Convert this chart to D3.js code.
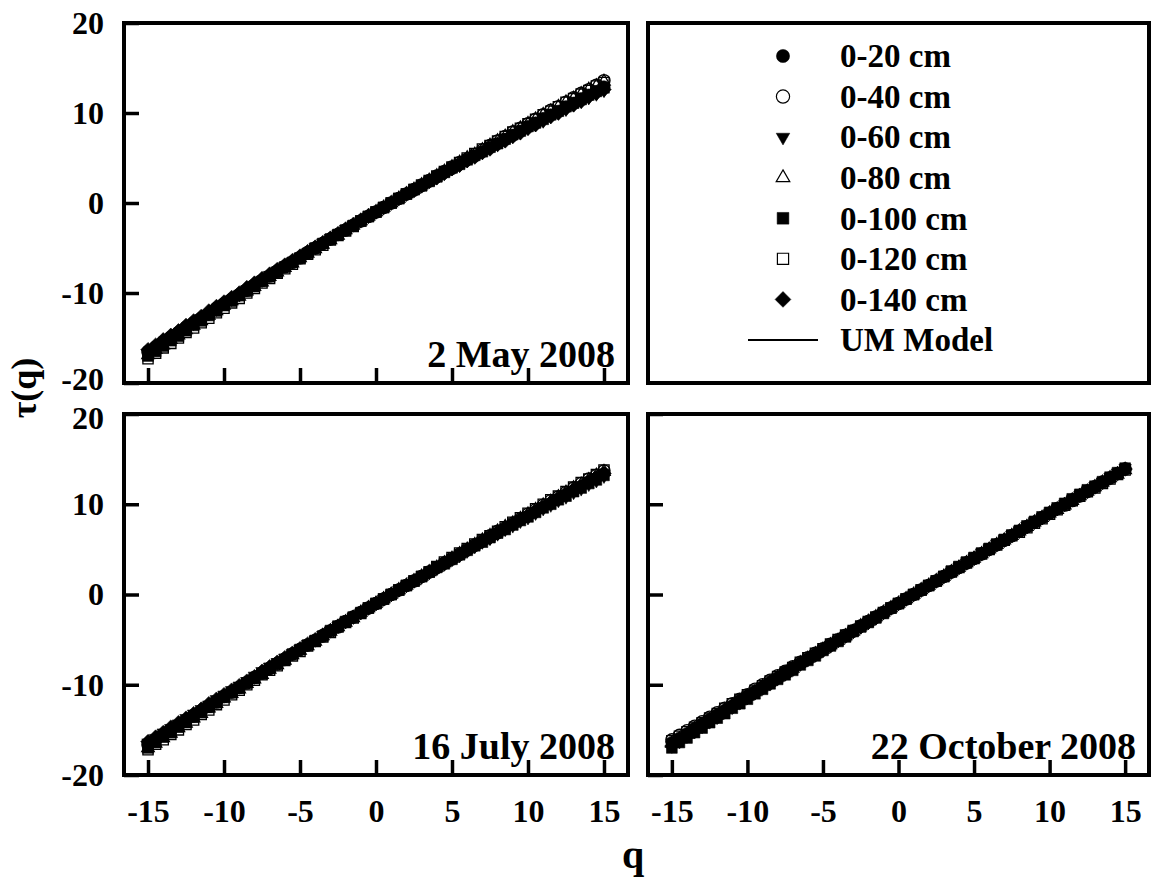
<!DOCTYPE html>
<html>
<head>
<meta charset="utf-8">
<script src="https://cdn.jsdelivr.net/npm/d3@7"></script>
<style>
  body { margin: 0; background: #fff; }
  svg { display: block; }
  text { font-family: "Liberation Serif", "Times New Roman", serif; font-weight: bold; fill: #000; }
</style>
</head>
<body>
<svg id="chart" width="1157" height="884"></svg>
<script>
// ---------------- DATA ----------------
const qValues = [-15,-14.5,-14,-13.5,-13,-12.5,-12,-11.5,-11,-10.5,-10,-9.5,-9,-8.5,-8,-7.5,-7,-6.5,-6,-5.5,-5,-4.5,-4,-3.5,-3,-2.5,-2,-1.5,-1,-0.5,0,0.5,1,1.5,2,2.5,3,3.5,4,4.5,5,5.5,6,6.5,7,7.5,8,8.5,9,9.5,10,10.5,11,11.5,12,12.5,13,13.5,14,14.5,15];
const modelQ = [-15,-14,-13,-12,-11,-10,-9,-8,-7,-6,-5,-4,-3,-2,-1,0,1,2,3,4,5,6,7,8,9,10,11,12,13,14,15];
const depthLabels = ["0-20 cm","0-40 cm","0-60 cm","0-80 cm","0-100 cm","0-120 cm","0-140 cm"];
const modelLabel = "UM Model";
const panelTitles = ["2 May 2008","16 July 2008","22 October 2008"];
const xTicks = [-15,-10,-5,0,5,10,15];
const yTicks = [-20,-10,0,10,20];
const xTitle = "q";
const yTitle = "τ(q)";

// 2 May 2008
const may_0_20 = [-16.6,-16.1,-15.5,-15.0,-14.4,-13.9,-13.4,-12.8,-12.3,-11.8,-11.2,-10.7,-10.2,-9.6,-9.1,-8.6,-8.1,-7.5,-7.0,-6.5,-6.0,-5.5,-5.0,-4.5,-4.0,-3.5,-3.0,-2.5,-2.0,-1.5,-1.0,-0.5,0,0.5,1.0,1.4,1.9,2.4,2.9,3.4,3.8,4.3,4.8,5.2,5.7,6.2,6.6,7.1,7.5,8.0,8.5,8.9,9.4,9.8,10.2,10.7,11.1,11.6,12.0,12.4,12.9];
const may_0_40 = [-16.5,-16.0,-15.4,-14.9,-14.4,-13.8,-13.3,-12.8,-12.3,-11.7,-11.2,-10.7,-10.2,-9.7,-9.1,-8.6,-8.1,-7.6,-7.1,-6.6,-6.1,-5.5,-5.0,-4.5,-4.0,-3.5,-3.0,-2.5,-2.0,-1.5,-1.0,-0.5,0,0.5,1.0,1.5,2.0,2.5,3.0,3.5,4.0,4.5,4.9,5.4,5.9,6.4,6.9,7.4,7.9,8.3,8.8,9.3,9.8,10.3,10.7,11.2,11.7,12.2,12.6,13.1,13.6];
const may_0_60 = [-16.7,-16.2,-15.6,-15.0,-14.5,-13.9,-13.4,-12.8,-12.3,-11.8,-11.2,-10.7,-10.2,-9.6,-9.1,-8.6,-8.0,-7.5,-7.0,-6.5,-6.0,-5.5,-4.9,-4.4,-3.9,-3.4,-2.9,-2.4,-2.0,-1.5,-1.0,-0.5,0,0.5,1.0,1.4,1.9,2.4,2.8,3.3,3.8,4.2,4.7,5.2,5.6,6.1,6.5,7.0,7.4,7.8,8.3,8.7,9.1,9.6,10.0,10.4,10.9,11.3,11.7,12.1,12.5];
const may_0_80 = [-16.9,-16.3,-15.8,-15.2,-14.7,-14.1,-13.6,-13.1,-12.5,-12.0,-11.4,-10.9,-10.4,-9.8,-9.3,-8.8,-8.2,-7.7,-7.2,-6.7,-6.1,-5.6,-5.1,-4.6,-4.1,-3.6,-3.0,-2.5,-2.0,-1.5,-1.0,-0.5,0,0.5,1.0,1.5,2.0,2.5,3.0,3.5,4.0,4.5,5.0,5.4,5.9,6.4,6.9,7.4,7.9,8.3,8.8,9.3,9.8,10.2,10.7,11.2,11.6,12.1,12.6,13.0,13.5];
const may_0_100 = [-17.0,-16.5,-15.9,-15.3,-14.8,-14.2,-13.6,-13.1,-12.5,-12.0,-11.4,-10.9,-10.3,-9.8,-9.3,-8.7,-8.2,-7.7,-7.1,-6.6,-6.1,-5.6,-5.0,-4.5,-4.0,-3.5,-3.0,-2.5,-2.0,-1.5,-1.0,-0.5,0,0.5,1.0,1.5,1.9,2.4,2.9,3.4,3.9,4.3,4.8,5.3,5.7,6.2,6.6,7.1,7.6,8.0,8.5,8.9,9.3,9.8,10.2,10.7,11.1,11.5,12.0,12.4,12.8];
const may_0_120 = [-17.3,-16.7,-16.1,-15.6,-15.0,-14.4,-13.9,-13.3,-12.8,-12.2,-11.7,-11.1,-10.6,-10.0,-9.5,-8.9,-8.4,-7.8,-7.3,-6.8,-6.2,-5.7,-5.2,-4.7,-4.1,-3.6,-3.1,-2.6,-2.0,-1.5,-1.0,-0.5,0,0.5,1.0,1.5,2.0,2.5,3.0,3.5,4.0,4.5,5.0,5.5,6.0,6.4,6.9,7.4,7.9,8.3,8.8,9.3,9.8,10.2,10.7,11.2,11.6,12.1,12.5,13.0,13.4];
const may_0_140 = [-16.3,-15.8,-15.2,-14.7,-14.2,-13.6,-13.1,-12.6,-12.0,-11.5,-11.0,-10.5,-10.0,-9.4,-8.9,-8.4,-7.9,-7.4,-6.9,-6.4,-5.9,-5.4,-4.9,-4.4,-3.9,-3.4,-2.9,-2.4,-1.9,-1.4,-1.0,-0.5,0,0.5,1.0,1.4,1.9,2.4,2.8,3.3,3.8,4.2,4.7,5.1,5.6,6.0,6.5,6.9,7.4,7.8,8.3,8.7,9.2,9.6,10.0,10.5,10.9,11.3,11.8,12.2,12.6];
const may_model = [-16.6,-15.5,-14.4,-13.4,-12.3,-11.2,-10.2,-9.1,-8.1,-7.0,-6.0,-5.0,-4.0,-3.0,-2.0,-1.0,0,1.0,1.9,2.9,3.8,4.8,5.7,6.6,7.5,8.5,9.4,10.2,11.1,12.0,12.9];

// 16 July 2008
const jul_0_20 = [-16.7,-16.2,-15.6,-15.1,-14.5,-14.0,-13.5,-12.9,-12.4,-11.9,-11.3,-10.8,-10.3,-9.7,-9.2,-8.7,-8.2,-7.6,-7.1,-6.6,-6.1,-5.6,-5.1,-4.5,-4.0,-3.5,-3.0,-2.5,-2.0,-1.5,-1.0,-0.5,0,0.5,1.0,1.5,2.0,2.5,3.0,3.5,3.9,4.4,4.9,5.4,5.9,6.4,6.8,7.3,7.8,8.3,8.7,9.2,9.7,10.1,10.6,11.1,11.5,12.0,12.5,12.9,13.4];
const jul_0_40 = [-16.6,-16.1,-15.6,-15.0,-14.5,-14.0,-13.4,-12.9,-12.4,-11.9,-11.3,-10.8,-10.3,-9.8,-9.2,-8.7,-8.2,-7.7,-7.2,-6.6,-6.1,-5.6,-5.1,-4.6,-4.1,-3.6,-3.0,-2.5,-2.0,-1.5,-1.0,-0.5,0,0.5,1.0,1.5,2.0,2.5,3.0,3.5,4.0,4.5,5.0,5.5,6.0,6.5,7.0,7.4,7.9,8.4,8.9,9.4,9.9,10.4,10.8,11.3,11.8,12.3,12.8,13.2,13.7];
const jul_0_60 = [-16.4,-15.9,-15.3,-14.8,-14.3,-13.7,-13.2,-12.7,-12.2,-11.6,-11.1,-10.6,-10.1,-9.6,-9.0,-8.5,-8.0,-7.5,-7.0,-6.5,-6.0,-5.5,-5.0,-4.5,-4.0,-3.5,-3.0,-2.5,-2.0,-1.5,-1.0,-0.5,0,0.5,1.0,1.5,1.9,2.4,2.9,3.4,3.9,4.3,4.8,5.3,5.8,6.2,6.7,7.2,7.6,8.1,8.5,9.0,9.5,9.9,10.4,10.8,11.3,11.7,12.2,12.6,13.1];
const jul_0_80 = [-17.0,-16.5,-15.9,-15.4,-14.8,-14.3,-13.7,-13.2,-12.6,-12.1,-11.5,-11.0,-10.5,-9.9,-9.4,-8.9,-8.3,-7.8,-7.3,-6.7,-6.2,-5.7,-5.2,-4.6,-4.1,-3.6,-3.1,-2.6,-2.0,-1.5,-1.0,-0.5,0,0.5,1.0,1.5,2.0,2.5,3.0,3.5,4.0,4.5,5.0,5.5,6.0,6.5,7.0,7.5,7.9,8.4,8.9,9.4,9.9,10.3,10.8,11.3,11.8,12.2,12.7,13.2,13.6];
const jul_0_100 = [-17.0,-16.4,-15.8,-15.3,-14.7,-14.2,-13.6,-13.1,-12.5,-12.0,-11.4,-10.9,-10.4,-9.8,-9.3,-8.8,-8.2,-7.7,-7.2,-6.6,-6.1,-5.6,-5.1,-4.6,-4.0,-3.5,-3.0,-2.5,-2.0,-1.5,-1.0,-0.5,0,0.5,1.0,1.5,2.0,2.5,3.0,3.4,3.9,4.4,4.9,5.4,5.8,6.3,6.8,7.2,7.7,8.2,8.6,9.1,9.6,10.0,10.5,10.9,11.4,11.8,12.3,12.7,13.2];
const jul_0_120 = [-17.2,-16.6,-16.1,-15.5,-15.0,-14.4,-13.9,-13.3,-12.8,-12.2,-11.7,-11.1,-10.6,-10.0,-9.5,-8.9,-8.4,-7.9,-7.3,-6.8,-6.3,-5.7,-5.2,-4.7,-4.2,-3.6,-3.1,-2.6,-2.1,-1.5,-1.0,-0.5,0,0.5,1.0,1.5,2.0,2.5,3.1,3.6,4.1,4.6,5.1,5.6,6.1,6.5,7.0,7.5,8.0,8.5,9.0,9.5,10.0,10.5,10.9,11.4,11.9,12.4,12.8,13.3,13.8];
const jul_0_140 = [-16.3,-15.8,-15.3,-14.7,-14.2,-13.7,-13.2,-12.7,-12.1,-11.6,-11.1,-10.6,-10.1,-9.6,-9.1,-8.5,-8.0,-7.5,-7.0,-6.5,-6.0,-5.5,-5.0,-4.5,-4.0,-3.5,-3.0,-2.5,-2.0,-1.5,-1.0,-0.5,0,0.5,1.0,1.5,2.0,2.5,2.9,3.4,3.9,4.4,4.9,5.4,5.9,6.3,6.8,7.3,7.8,8.3,8.7,9.2,9.7,10.2,10.6,11.1,11.6,12.0,12.5,13.0,13.4];
const jul_model = [-16.7,-15.6,-14.5,-13.5,-12.4,-11.3,-10.3,-9.2,-8.2,-7.1,-6.1,-5.1,-4.0,-3.0,-2.0,-1.0,0,1.0,2.0,3.0,3.9,4.9,5.9,6.8,7.8,8.7,9.7,10.6,11.5,12.5,13.4];

// 22 October 2008
const oct_0_20 = [-16.4,-15.9,-15.4,-14.8,-14.3,-13.8,-13.3,-12.8,-12.3,-11.7,-11.2,-10.7,-10.2,-9.7,-9.2,-8.6,-8.1,-7.6,-7.1,-6.6,-6.1,-5.6,-5.1,-4.6,-4.1,-3.5,-3.0,-2.5,-2.0,-1.5,-1.0,-0.5,0,0.5,1.0,1.5,2.0,2.5,3.0,3.5,4.0,4.5,5.0,5.5,6.0,6.5,7.0,7.5,8.0,8.5,9.0,9.5,10.0,10.5,11.0,11.5,12.0,12.5,12.9,13.4,13.9];
const oct_0_40 = [-16.1,-15.6,-15.1,-14.6,-14.1,-13.6,-13.1,-12.6,-12.1,-11.6,-11.1,-10.5,-10.0,-9.5,-9.0,-8.5,-8.0,-7.5,-7.0,-6.5,-6.0,-5.5,-5.0,-4.5,-4.0,-3.5,-3.0,-2.5,-2.0,-1.5,-1.0,-0.5,0,0.5,1.0,1.5,2.0,2.5,3.0,3.5,4.0,4.5,5.0,5.5,6.0,6.5,7.0,7.5,8.0,8.5,9.0,9.5,9.9,10.4,10.9,11.4,11.9,12.4,12.9,13.4,13.9];
const oct_0_60 = [-16.7,-16.1,-15.6,-15.1,-14.6,-14.0,-13.5,-13.0,-12.4,-11.9,-11.4,-10.9,-10.3,-9.8,-9.3,-8.8,-8.2,-7.7,-7.2,-6.7,-6.2,-5.6,-5.1,-4.6,-4.1,-3.6,-3.1,-2.6,-2.0,-1.5,-1.0,-0.5,0,0.5,1.0,1.5,2.0,2.5,3.0,3.5,4.0,4.6,5.1,5.6,6.1,6.6,7.1,7.6,8.1,8.5,9.0,9.5,10.0,10.5,11.0,11.5,12.0,12.5,13.0,13.5,14.0];
const oct_0_80 = [-16.5,-16.0,-15.5,-14.9,-14.4,-13.9,-13.4,-12.8,-12.3,-11.8,-11.3,-10.8,-10.2,-9.7,-9.2,-8.7,-8.2,-7.6,-7.1,-6.6,-6.1,-5.6,-5.1,-4.6,-4.1,-3.5,-3.0,-2.5,-2.0,-1.5,-1.0,-0.5,0,0.5,1.0,1.5,2.0,2.5,3.0,3.5,4.0,4.5,5.0,5.5,6.0,6.5,7.0,7.5,8.0,8.5,9.0,9.4,9.9,10.4,10.9,11.4,11.9,12.4,12.9,13.3,13.8];
const oct_0_100 = [-17.0,-16.4,-15.9,-15.3,-14.8,-14.2,-13.7,-13.2,-12.6,-12.1,-11.6,-11.0,-10.5,-9.9,-9.4,-8.9,-8.4,-7.8,-7.3,-6.8,-6.2,-5.7,-5.2,-4.7,-4.1,-3.6,-3.1,-2.6,-2.1,-1.5,-1.0,-0.5,0,0.5,1.0,1.5,2.0,2.6,3.1,3.6,4.1,4.6,5.1,5.6,6.1,6.6,7.1,7.6,8.1,8.6,9.1,9.6,10.1,10.6,11.1,11.6,12.0,12.5,13.0,13.5,14.0];
const oct_0_120 = [-16.2,-15.7,-15.2,-14.7,-14.2,-13.7,-13.2,-12.6,-12.1,-11.6,-11.1,-10.6,-10.1,-9.6,-9.1,-8.6,-8.1,-7.5,-7.0,-6.5,-6.0,-5.5,-5.0,-4.5,-4.0,-3.5,-3.0,-2.5,-2.0,-1.5,-1.0,-0.5,0,0.5,1.0,1.5,2.0,2.5,3.0,3.5,4.0,4.5,5.0,5.5,6.0,6.5,6.9,7.4,7.9,8.4,8.9,9.4,9.9,10.4,10.9,11.4,11.8,12.3,12.8,13.3,13.8];
const oct_0_140 = [-16.8,-16.3,-15.7,-15.2,-14.6,-14.1,-13.6,-13.0,-12.5,-12.0,-11.4,-10.9,-10.4,-9.9,-9.3,-8.8,-8.3,-7.7,-7.2,-6.7,-6.2,-5.7,-5.1,-4.6,-4.1,-3.6,-3.1,-2.6,-2.0,-1.5,-1.0,-0.5,0,0.5,1.0,1.5,2.0,2.5,3.0,3.5,4.0,4.5,5.0,5.5,6.0,6.5,7.0,7.5,8.0,8.5,9.0,9.5,10.0,10.5,11.0,11.4,11.9,12.4,12.9,13.4,13.9];
const oct_model = [-16.4,-15.4,-14.3,-13.3,-12.3,-11.2,-10.2,-9.2,-8.1,-7.1,-6.1,-5.1,-4.1,-3.0,-2.0,-1.0,0,1.0,2.0,3.0,4.0,5.0,6.0,7.0,8.0,9.0,10.0,11.0,12.0,12.9,13.9];

// ---------------- DRAWING ----------------
const svg = d3.select("#chart");
const fmt = d => (d < 0 ? "-" + Math.abs(d) : String(d));
const FONT = '"Liberation Serif","Times New Roman",serif';

const xDomain = [-16.58, 16.58];
const yDomain = [-20, 20];
const xLeft = d3.scaleLinear().domain(xDomain).range([124, 628]);
const xRight = d3.scaleLinear().domain(xDomain).range([648, 1149]);
const yTop = d3.scaleLinear().domain(yDomain).range([383, 23]);
const yBottom = d3.scaleLinear().domain(yDomain).range([775, 414]);

const markerStyles = [
  { type: d3.symbolCircle,   size: 110, rot: 0,   filled: true  },
  { type: d3.symbolCircle,   size: 110, rot: 0,   filled: false },
  { type: d3.symbolTriangle, size: 64,  rot: 180, filled: true  },
  { type: d3.symbolTriangle, size: 64,  rot: 0,   filled: false },
  { type: d3.symbolSquare,   size: 110, rot: 0,   filled: true  },
  { type: d3.symbolSquare,   size: 100, rot: 0,   filled: false },
  { type: d3.symbolSquare,   size: 100, rot: 45,  filled: true  }
];

const panels = [
  { title: panelTitles[0], series: [may_0_20, may_0_40, may_0_60, may_0_80, may_0_100, may_0_120, may_0_140], model: may_model, x: xLeft,  y: yTop,    xLabels: false, yLabels: true },
  { title: panelTitles[1], series: [jul_0_20, jul_0_40, jul_0_60, jul_0_80, jul_0_100, jul_0_120, jul_0_140], model: jul_model, x: xLeft,  y: yBottom, xLabels: true,  yLabels: true },
  { title: panelTitles[2], series: [oct_0_20, oct_0_40, oct_0_60, oct_0_80, oct_0_100, oct_0_120, oct_0_140], model: oct_model, x: xRight, y: yBottom, xLabels: true,  yLabels: false }
];

panels.forEach((p, pi) => {
  const g = svg.append("g");
  const [x0, x1] = p.x.range();
  const [yb, yt] = p.y.range();

  p.series.forEach((vals, si) => {
    const st = markerStyles[si];
    const sym = d3.symbol().type(st.type).size(st.size * 1.05);
    const n = Math.min(vals.length, qValues.length);
    const pts = d3.range(n).map(i => [qValues[i], vals[i]]);
    g.append("g").selectAll("path").data(pts).join("path")
      .attr("d", sym)
      .attr("transform", d => `translate(${p.x(d[0])},${p.y(d[1])}) rotate(${st.rot})`)
      .attr("fill", st.filled ? "#000" : "none")
      .attr("stroke", "#000")
      .attr("stroke-width", st.filled ? 0.6 : 1.3);
  });

  const line = d3.line().x((d, i) => p.x(modelQ[i])).y(d => p.y(d));
  g.append("path").datum(p.model.slice(0, modelQ.length))
    .attr("d", line).attr("fill", "none").attr("stroke", "#000").attr("stroke-width", 2);

  const xa = d3.axisBottom(p.x).tickValues(xTicks).tickSizeInner(-15).tickSizeOuter(0).tickPadding(24)
    .tickFormat(p.xLabels ? fmt : () => "");
  const gx = g.append("g").attr("transform", `translate(0,${yb})`).call(xa);
  gx.select(".domain").remove();
  gx.selectAll(".tick line").attr("stroke", "#000").attr("stroke-width", 3.5);
  gx.selectAll(".tick text").attr("font-size", 32).attr("fill", "#000")
    .style("font-family", FONT).style("font-weight", "bold");

  const ya = d3.axisLeft(p.y).tickValues(yTicks).tickSizeInner(-15).tickSizeOuter(0).tickPadding(20)
    .tickFormat(p.yLabels ? fmt : () => "");
  const gy = g.append("g").attr("transform", `translate(${x0},0)`).call(ya);
  gy.select(".domain").remove();
  gy.selectAll(".tick line").attr("stroke", "#000").attr("stroke-width", 3.5);
  gy.selectAll(".tick text").attr("font-size", 32).attr("fill", "#000")
    .style("font-family", FONT).style("font-weight", "bold");
  // keep the stacked "-20" / "20" labels of the two left panels from colliding
  if (pi === 0) gy.selectAll(".tick").filter(d => d === -20).select("text").attr("dy", "0.2em");
  if (pi === 1) gy.selectAll(".tick").filter(d => d === 20).select("text").attr("dy", "0.44em");

  g.append("rect").attr("x", x0).attr("y", yt).attr("width", x1 - x0).attr("height", yb - yt)
    .attr("fill", "none").attr("stroke", "#000").attr("stroke-width", 4);

  g.append("text").attr("x", x1 - 13).attr("y", yb - 16).attr("text-anchor", "end")
    .attr("font-size", 38).text(p.title);
});

// legend panel
const lg = svg.append("g");
const lx0 = xRight.range()[0], lx1 = xRight.range()[1];
const ly1 = yTop.range()[0], ly0 = yTop.range()[1];
lg.append("rect").attr("x", lx0).attr("y", ly0).attr("width", lx1 - lx0).attr("height", ly1 - ly0)
  .attr("fill", "none").attr("stroke", "#000").attr("stroke-width", 4);
const rowY = d3.scalePoint().domain(d3.range(depthLabels.length + 1)).range([56, 340]);
depthLabels.forEach((lab, i) => {
  const st = markerStyles[i];
  const sym = d3.symbol().type(st.type).size(st.size * 1.25);
  lg.append("path").attr("d", sym)
    .attr("transform", `translate(783,${rowY(i)}) rotate(${st.rot})`)
    .attr("fill", st.filled ? "#000" : "#fff").attr("stroke", "#000").attr("stroke-width", st.filled ? 0.5 : 1.2);
  lg.append("text").attr("x", 840).attr("y", rowY(i)).attr("dy", "0.34em").attr("font-size", 33).text(lab);
});
const mi = depthLabels.length;
lg.append("line").attr("x1", 748).attr("x2", 818).attr("y1", rowY(mi)).attr("y2", rowY(mi))
  .attr("stroke", "#000").attr("stroke-width", 2);
lg.append("text").attr("x", 840).attr("y", rowY(mi)).attr("dy", "0.34em").attr("font-size", 33).text(modelLabel);

// axis titles
svg.append("text").attr("transform", "translate(36,388) rotate(-90)").attr("text-anchor", "middle")
  .attr("font-size", 36).text(yTitle);
svg.append("text").attr("x", 633).attr("y", 868).attr("text-anchor", "middle")
  .attr("font-size", 40).text(xTitle);
</script>
</body>
</html>
